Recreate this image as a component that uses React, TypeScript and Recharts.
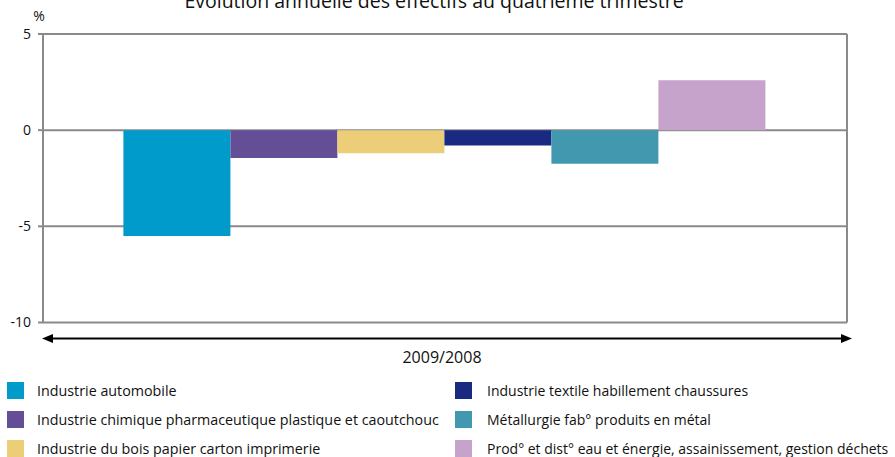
import { BarChart, Bar, XAxis, YAxis, CartesianGrid, Legend, Customized } from "recharts";

const periods = ["2009/2008"];
const sectors = [
  "Industrie automobile",
  "Industrie chimique pharmaceutique plastique et caoutchouc",
  "Industrie du bois papier carton imprimerie",
  "Industrie textile habillement chaussures",
  "Métallurgie fab° produits en métal",
  "Prod° et dist° eau et énergie, assainissement, gestion déchets",
];
const sectorColors = ["#009bcb", "#644f96", "#eccd78", "#1a2a80", "#4298af", "#c6a3ca"];
const evolution = [-5.5, -1.45, -1.2, -0.8, -1.75, 2.6];
const yTicks = [5, 0, -5, -10];

const FONT = "'Open Sans', sans-serif";
const GRID = "#8a8a8a";

const data = periods.map((p) => {
  const row: Record<string, string | number> = { period: p };
  sectors.forEach((s, i) => (row["s" + i] = evolution[i]));
  return row;
});

function PeriodTick(props: any) {
  const { x, y, payload } = props;
  const ay = y + 16;
  const x1 = x - 403;
  const x2 = x + 407;
  return (
    <g>
      <line x1={x1 + 6} y1={ay} x2={x2 - 6} y2={ay} stroke="#000" strokeWidth={2} />
      <polygon points={`${x1},${ay} ${x1 + 11},${ay - 4.5} ${x1 + 11},${ay + 4.5}`} fill="#000" />
      <polygon points={`${x2},${ay} ${x2 - 11},${ay - 4.5} ${x2 - 11},${ay + 4.5}`} fill="#000" />
      <text x={x - 3} y={y + 40} textAnchor="middle" fontSize={16} fill="#111" fontFamily={FONT}>
        {payload.value}
      </text>
    </g>
  );
}

function TwoColLegend() {
  const rows = [0, 1, 2];
  const cell = (i: number, left: number, textLeft: number, size: number) => (
    <div key={i} style={{ position: "absolute", left, top: 0, display: "flex", alignItems: "center" }}>
      <div style={{ width: 17, height: 17, background: sectorColors[i] }} />
      <span style={{ marginLeft: textLeft, fontSize: size, color: "#111", fontFamily: FONT, whiteSpace: "nowrap" }}>
        {sectors[i]}
      </span>
    </div>
  );
  return (
    <div style={{ position: "relative", width: 895, height: 88 }}>
      {rows.map((r) => (
        <div key={r} style={{ position: "absolute", left: 0, top: 12 + r * 29, height: 17, width: 895 }}>
          {cell(r, 7, 13, 14.3)}
          {cell(r + 3, 455, 15, 14)}
        </div>
      ))}
    </div>
  );
}

function Decorations() {
  return (
    <g>
      <text x={434} y={8} textAnchor="middle" fontSize={19.5} fill="#111" fontFamily={FONT}>
        Evolution annuelle des effectifs au quatrième trimestre
      </text>
      <text x={39} y={21} textAnchor="middle" fontSize={14} fill="#111" fontFamily={FONT}>
        %
      </text>
    </g>
  );
}

export default function App() {
  return (
    <div style={{ position: "absolute", left: 0, top: 0, width: 895, height: 457, background: "#fff" }}>
      <BarChart
        width={895}
        height={457}
        data={data}
        margin={{ top: 34, right: 48, bottom: 0, left: 0 }}
        barGap={0}
        barCategoryGap="10%"
      >
        <CartesianGrid
          stroke={GRID}
          strokeWidth={2}
          vertical={true}
          verticalCoordinatesGenerator={({ offset }: any) => [offset.left + offset.width]}
        />
        <XAxis
          dataKey="period"
          height={46.5}
          axisLine={false}
          tickLine={false}
          tickSize={0}
          tickMargin={0}
          tick={<PeriodTick />}
        />
        <YAxis
          domain={[-10, 5]}
          ticks={yTicks}
          interval={0}
          width={43}
          axisLine={{ stroke: GRID, strokeWidth: 2 }}
          tickLine={{ stroke: GRID, strokeWidth: 2 }}
          tickSize={5}
          tickMargin={7}
          tick={{ fill: "#111", fontSize: 14, fontFamily: FONT }}
        />
        <Legend verticalAlign="bottom" content={() => <TwoColLegend />} wrapperStyle={{ height: 88 }} />
        {sectors.map((s, i) => (
          <Bar key={s} dataKey={"s" + i} name={s} fill={sectorColors[i]} isAnimationActive={false} />
        ))}
        <Customized component={Decorations} />
      </BarChart>
    </div>
  );
}
